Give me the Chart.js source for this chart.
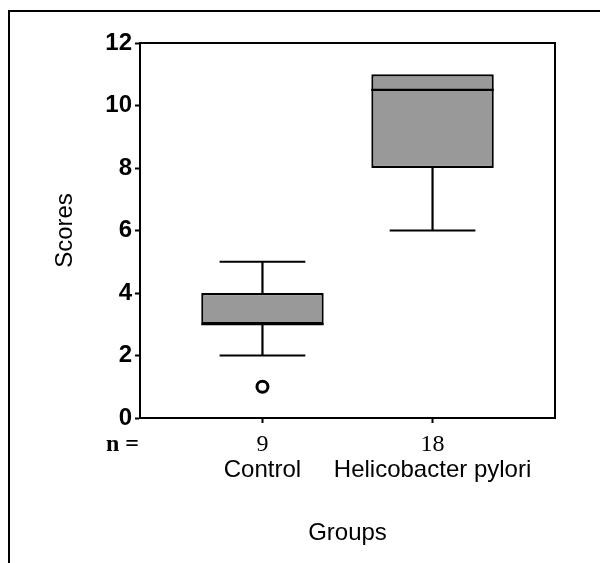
<!DOCTYPE html>
<html>
<head>
<meta charset="utf-8">
<script src="https://cdn.jsdelivr.net/npm/chart.js@4.4.1/dist/chart.umd.min.js"></script>
<style>
  body { margin: 0; background: #fff; }
  #wrap { position: relative; width: 600px; height: 563px; overflow: hidden; }
  #frame { position: absolute; left: 8px; top: 10px; width: 600px; height: 600px;
           border-top: 2px solid #000; border-left: 2px solid #000; }
  #chart { position: absolute; left: 0; top: 0; }
</style>
</head>
<body>
<div id="wrap">
  <div id="frame"></div>
  <canvas id="chart" width="600" height="563"></canvas>
</div>
<script>
// box plot data
const groups = ['Control', 'Helicobacter pylori'];
const positions = [1, 2];
const counts = [9, 18];
const q1 = [3, 8];
const q3 = [4, 11];
const medians = [3, 10.5];
const whiskerLow = [2, 6];
const whiskerHigh = [5, 11];
const outliers = [[1], []];
const yTicks = [0, 2, 4, 6, 8, 10, 12];

const sans = '"Liberation Sans", Arial, sans-serif';
const serif = '"Liberation Serif", "Times New Roman", serif';

const boxData = positions.map((p, i) => ({ x: p, y: [q1[i], q3[i]] }));
const outlierData = [];
positions.forEach((p, i) => {
    outliers[i].forEach(v => outlierData.push({ x: p, y: v }));
});

// whiskers, medians, plot frame and the "n =" row
const boxExtras = {
    id: 'boxExtras',
    afterDatasetsDraw(chart) {
        const ctx = chart.ctx;
        const yScale = chart.scales.y;
        const meta = chart.getDatasetMeta(0);
        ctx.save();
        ctx.strokeStyle = '#000';
        ctx.lineWidth = 2.2;
        meta.data.forEach((bar, i) => {
            const cx = bar.x;
            const half = bar.width / 2;
            const cap = bar.width * 0.35;
            const yq1 = yScale.getPixelForValue(q1[i]);
            const yq3 = yScale.getPixelForValue(q3[i]);
            const ylo = yScale.getPixelForValue(whiskerLow[i]);
            const yhi = yScale.getPixelForValue(whiskerHigh[i]);
            const ymed = yScale.getPixelForValue(medians[i]);
            ctx.beginPath();
            if (whiskerLow[i] < q1[i]) {
                ctx.moveTo(cx, yq1); ctx.lineTo(cx, ylo);
                ctx.moveTo(cx - cap, ylo); ctx.lineTo(cx + cap, ylo);
            }
            if (whiskerHigh[i] > q3[i]) {
                ctx.moveTo(cx, yq3); ctx.lineTo(cx, yhi);
                ctx.moveTo(cx - cap, yhi); ctx.lineTo(cx + cap, yhi);
            }
            ctx.moveTo(cx - half, ymed); ctx.lineTo(cx + half, ymed);
            ctx.stroke();
        });
        const a = chart.chartArea;
        ctx.lineWidth = 2;
        ctx.strokeRect(a.left, a.top, a.right - a.left, a.bottom - a.top);
        ctx.restore();
    },
    afterDraw(chart) {
        const ctx = chart.ctx;
        const xScale = chart.scales.x;
        const rowY = 445;
        ctx.save();
        ctx.fillStyle = '#000';
        ctx.textBaseline = 'middle';
        ctx.font = 'bold 24px ' + serif;
        ctx.textAlign = 'left';
        ctx.fillText('n =', 106, rowY);
        ctx.font = '24px ' + serif;
        ctx.textAlign = 'center';
        positions.forEach((p, i) => {
            ctx.fillText(String(counts[i]), xScale.getPixelForValue(p), rowY);
        });
        ctx.restore();
    }
};

new Chart(document.getElementById('chart'), {
    type: 'bar',
    data: {
        datasets: [{
            data: boxData,
            backgroundColor: '#999999',
            borderColor: '#000',
            borderWidth: 2.2,
            borderSkipped: false,
            barPercentage: 0.9,
            categoryPercentage: 0.8
        }, {
            type: 'scatter',
            data: outlierData,
            pointStyle: 'circle',
            pointRadius: 5.5,
            pointBorderWidth: 3,
            pointBackgroundColor: '#fff',
            pointBorderColor: '#000'
        }]
    },
    options: {
        responsive: false,
        animation: false,
        layout: { padding: { left: 0, top: 43, right: 45, bottom: 0 } },
        plugins: { legend: { display: false }, tooltip: { enabled: false } },
        scales: {
            x: {
                type: 'linear',
                offset: false,
                min: 0.28,
                max: 2.72,
                afterBuildTicks: scale => { scale.ticks = positions.map(v => ({ value: v })); },
                afterFit: scale => { scale.height = 145; },
                grid: { offset: false, drawOnChartArea: false, tickLength: 5, tickColor: '#000', tickWidth: 2 },
                border: { color: '#000', width: 2 },
                ticks: {
                    padding: 33,
                    color: '#000',
                    font: { family: sans, size: 24 },
                    callback: (v) => groups[positions.indexOf(v)]
                },
                title: {
                    display: true,
                    text: 'Groups',
                    color: '#000',
                    font: { family: sans, size: 24 },
                    padding: { bottom: 15 }
                }
            },
            y: {
                min: 0,
                max: 12,
                afterBuildTicks: scale => { scale.ticks = yTicks.map(v => ({ value: v })); },
                afterFit: scale => { scale.width = 140; },
                grid: { drawOnChartArea: false, tickLength: 5, tickColor: '#000', tickWidth: 2 },
                border: { color: '#000', width: 2 },
                ticks: {
                    padding: 3,
                    color: '#000',
                    font: { family: sans, size: 24, weight: 'bold' }
                },
                title: {
                    display: true,
                    text: 'Scores',
                    color: '#000',
                    font: { family: sans, size: 24 },
                    padding: { top: 51 }
                }
            }
        }
    },
    plugins: [boxExtras]
});
</script>
</body>
</html>
